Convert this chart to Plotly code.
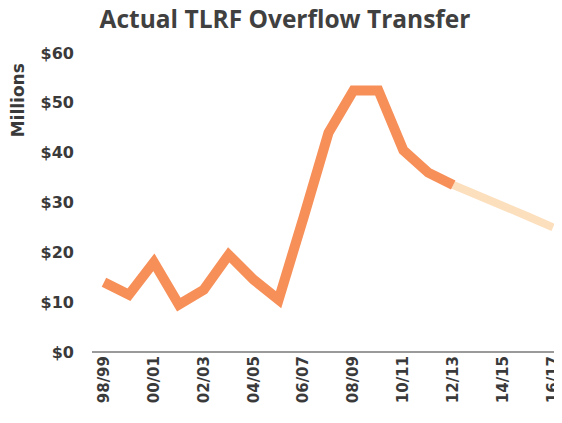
import plotly.graph_objects as go

years = ["98/99", "99/00", "00/01", "01/02", "02/03", "03/04", "04/05", "05/06",
         "06/07", "07/08", "08/09", "09/10", "10/11", "11/12", "12/13",
         "13/14", "14/15", "15/16", "16/17"]
actual = [14, 11.5, 18, 9.5, 12.5, 19.5, 14.5, 10.5,
          27, 44, 52.5, 52.5, 40.5, 36, 33.5]
projected_years = ["12/13", "13/14", "14/15", "15/16", "16/17"]
projected = [33.5, 31.5, 29.3, 27.2, 25]
shown_ticks = years[::2]
y_ticks = [0, 10, 20, 30, 40, 50, 60]

# the page body adds an 8px margin, so the figure is drawn 8px smaller
W, H = 554, 415
L, T, B = 84, 45, 71
plot_w, plot_h = W - L, H - T - B

fig = go.Figure()
fig.add_trace(go.Scatter(x=projected_years, y=projected, mode="lines",
                         line=dict(color="#FCDFBD", width=8), showlegend=False))
fig.add_trace(go.Scatter(x=years[:len(actual)], y=actual, mode="lines",
                         line=dict(color="#F78F58", width=10), showlegend=False))

fig.update_layout(
    width=W, height=H,
    margin=dict(l=L, r=0, t=T, b=B),
    plot_bgcolor="white", paper_bgcolor="white",
    font=dict(family="DejaVu Sans", color="#3a3a3a"),
    title=dict(text="<b>Actual TLRF Overflow Transfer</b>", x=277 / W, xanchor="center",
               xref="container", y=1 - 11 / H, yanchor="middle", yref="container",
               font=dict(family="Open Sans", size=24.5, color="#404040")),
    annotations=[dict(text="<b>Millions</b>", textangle=-90,
                      x=(10 - L) / plot_w, y=(T + plot_h - 92) / plot_h,
                      xref="x domain", yref="y domain", showarrow=False,
                      xanchor="center", yanchor="middle",
                      font=dict(size=17, color="#3a3a3a"))],
)

fig.update_xaxes(type="category", categoryorder="array", categoryarray=years,
                 range=[-0.48, 18.28], tickmode="array", tickvals=shown_ticks,
                 ticktext=["<b>%s</b>" % t for t in shown_ticks], tickangle=-90,
                 tickfont=dict(size=15), showgrid=False, showline=False,
                 zeroline=False, ticks="", ticklabeloverflow="allow")
fig.update_yaxes(range=[0, 60], tickvals=y_ticks,
                 ticktext=["<b>$%d</b>" % v for v in y_ticks],
                 tickfont=dict(size=16), showgrid=False, zeroline=True,
                 zerolinecolor="#9a9a9a", zerolinewidth=2, ticklabelstandoff=17)

fig.write_html("out.html")
